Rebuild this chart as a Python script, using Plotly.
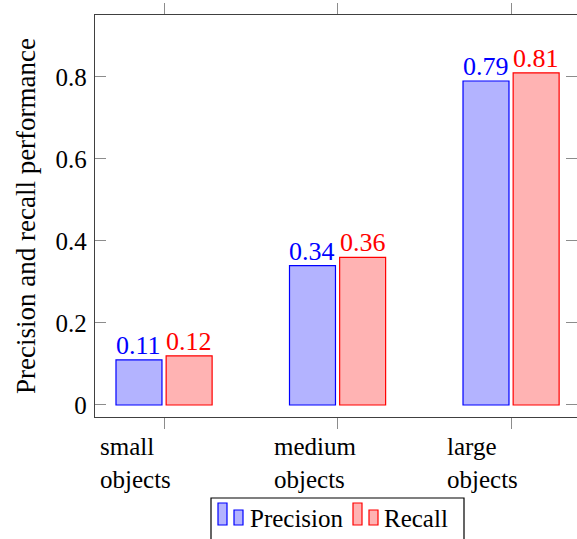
import plotly.graph_objects as go

categories = ["small<br>objects", "medium<br>objects", "large<br>objects"]
precision = [0.11, 0.34, 0.79]
recall = [0.12, 0.36, 0.81]
y_ticks = [0, 0.2, 0.4, 0.6, 0.8]
y_tick_labels = ["0", "0.2", "0.4", "0.6", "0.8"]

FONT = "Liberation Serif"
BLUE, BLUE_FILL = "#0000ff", "#b3b3ff"
RED, RED_FILL = "#ff0000", "#ffb3b3"

x_pos = list(range(len(categories)))
BAR_W = 0.265
OFFSETS = {"Precision": -0.277, "Recall": 0.012}

fig = go.Figure()
annotations = []
for name, vals, col, fill in [("Precision", precision, BLUE, BLUE_FILL),
                              ("Recall", recall, RED, RED_FILL)]:
    fig.add_trace(go.Bar(
        x=x_pos, y=vals, name=name,
        width=BAR_W, offset=OFFSETS[name],
        marker=dict(color=fill, line=dict(color=col, width=1.2)),
    ))
    # value labels above each bar, taken from the same values
    for xi, v in zip(x_pos, vals):
        annotations.append(dict(
            x=xi + OFFSETS[name] + BAR_W / 2, xref="x",
            y=v, yref="y", yanchor="bottom", yshift=-2,
            text=f"{v:.2f}", showarrow=False,
            font=dict(size=26, color=col),
        ))

# two-line category labels, left-aligned in a box centred on each tick
for i, lab in enumerate(categories):
    annotations.append(dict(
        x=i - 0.38, xref="x", xanchor="left",
        y=0, yref="paper", yanchor="top", yshift=-14,
        text=lab, align="left", showarrow=False,
        font=dict(size=25, color="black"),
    ))

def px_x(px):
    return (px - 95) / 482

def px_y(py):
    return -(py - 417) / 402

# legend box with pgfplots-style twin-bar glyphs
shapes = [dict(type="rect", xref="paper", yref="paper",
               x0=px_x(211), x1=px_x(464), y0=px_y(545), y1=px_y(498),
               line=dict(color="black", width=1.2), fillcolor="white", layer="below")]

for x0, col, fill in [(218, BLUE, BLUE_FILL), (353, RED, RED_FILL)]:
    shapes.append(dict(type="rect", xref="paper", yref="paper",
                       x0=px_x(x0), x1=px_x(x0 + 9), y0=px_y(525), y1=px_y(503),
                       line=dict(color=col, width=1.2), fillcolor=fill))
    shapes.append(dict(type="rect", xref="paper", yref="paper",
                       x0=px_x(x0 + 16), x1=px_x(x0 + 25), y0=px_y(525), y1=px_y(510),
                       line=dict(color=col, width=1.2), fillcolor=fill))

for xt, name in [(248, "Precision"), (382, "Recall")]:
    annotations.append(dict(
        x=px_x(xt), xref="paper", xanchor="left",
        y=px_y(518), yref="paper", yanchor="middle",
        text=name, showarrow=False,
        font=dict(size=25, color="black"),
    ))

fig.update_layout(
    width=577, height=539,
    margin=dict(l=95, r=0, t=15, b=122),
    paper_bgcolor="white", plot_bgcolor="white",
    showlegend=False,
    font=dict(family=FONT, size=25, color="black"),
    xaxis=dict(
        range=[-0.398, 2.38], tickvals=x_pos, showticklabels=False,
        ticks="outside", ticklen=11, tickcolor="#8c8c8c", tickwidth=1.2,
        showline=True, linecolor="#404040", linewidth=1.3, mirror="ticks",
        showgrid=False, zeroline=False,
    ),
    yaxis=dict(
        range=[-0.0293, 0.951], tickvals=y_ticks, ticktext=y_tick_labels,
        ticks="inside", ticklen=11, tickcolor="#8c8c8c", tickwidth=1.2,
        showline=True, linecolor="#404040", linewidth=1.3, mirror="ticks",
        showgrid=False, zeroline=False, ticklabelstandoff=2,
        title=dict(text="Precision and recall performance",
                   font=dict(size=27), standoff=12),
    ),
    annotations=annotations,
    shapes=shapes,
)

fig.write_html("out.html")
